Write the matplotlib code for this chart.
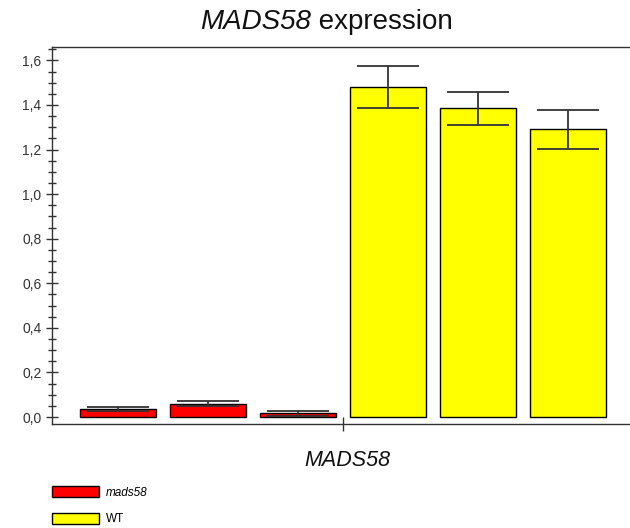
import matplotlib
matplotlib.use("Agg")
import matplotlib.pyplot as plt
import matplotlib.patches as mpatches
import numpy as np
from matplotlib.ticker import MultipleLocator, FuncFormatter

plt.rcParams["font.family"] = ["Liberation Sans", "DejaVu Sans"]

# data
groups = ["mads58", "mads58", "mads58", "WT", "WT", "WT"]
values = [0.037, 0.060, 0.017, 1.48, 1.385, 1.29]
errors = [0.008, 0.010, 0.011, 0.095, 0.075, 0.087]
group_colors = {"mads58": "#FF0000", "WT": "#FFFF00"}
legend_labels = ["mads58", "WT"]

fig = plt.figure(figsize=(6.3, 5.28), dpi=100)
ax = fig.add_axes([52 / 630, 1 - 424 / 528, 1 - 52 / 630, (424 - 47) / 528])

x = np.arange(len(values))
ax.bar(x, values, width=0.844, color=[group_colors[g] for g in groups],
       edgecolor="black", linewidth=1.0, zorder=2)
ax.errorbar(x, values, yerr=errors, fmt="none", ecolor="#333333",
            elinewidth=1.3, capsize=22, capthick=1.3, zorder=3)

ax.set_xlim(-0.733, 5.689)
ax.set_ylim(-0.031, 1.66)

ax.spines["right"].set_visible(False)
for s in ["left", "bottom", "top"]:
    ax.spines[s].set_color("#333333")
    ax.spines[s].set_linewidth(1.0)

ax.yaxis.set_major_locator(MultipleLocator(0.2))
ax.yaxis.set_minor_locator(MultipleLocator(0.05))
ax.yaxis.set_major_formatter(FuncFormatter(lambda v, p: f"{v:.1f}".replace(".", ",")))
ax.tick_params(axis="y", which="major", direction="inout", length=9, width=1,
               color="#333333", labelsize=10, labelcolor="#333333", pad=3)
ax.tick_params(axis="y", which="minor", direction="inout", length=6, width=1,
               color="#333333")
ax.set_xticks([2.5])
ax.set_xticklabels([""])
ax.tick_params(axis="x", which="major", direction="inout", length=10, width=1,
               color="#333333")

# title: italic gene name followed by upright word, centred as a pair
renderer = fig.canvas.get_renderer()
t1 = fig.text(0, 1 - 22 / 528, "MADS58", ha="left", va="center", fontsize=20,
              style="italic", color="#111111")
t2 = fig.text(0, 1 - 22 / 528, " expression", ha="left", va="center", fontsize=20,
              color="#111111")
w1 = t1.get_window_extent(renderer).width / fig.bbox.width
w2 = t2.get_window_extent(renderer).width / fig.bbox.width
x0 = 326 / 630 - (w1 + w2) / 2
t1.set_x(x0)
t2.set_x(x0 + w1)

fig.text(347 / 630, 1 - 460 / 528, "MADS58", ha="center", va="center",
         fontsize=15.5, style="italic", color="#111111")

handles = [mpatches.Patch(facecolor=group_colors[g], edgecolor="black", linewidth=1.0)
           for g in legend_labels]
leg = fig.legend(handles, legend_labels, loc="lower left",
                 bbox_to_anchor=(47 / 630, -2 / 528), frameon=False, fontsize=8.5,
                 handlelength=4.0, handleheight=1.05, labelspacing=1.2,
                 handletextpad=0.6, borderaxespad=0)
leg.get_texts()[0].set_style("italic")

fig.savefig("out.png", dpi=100)
